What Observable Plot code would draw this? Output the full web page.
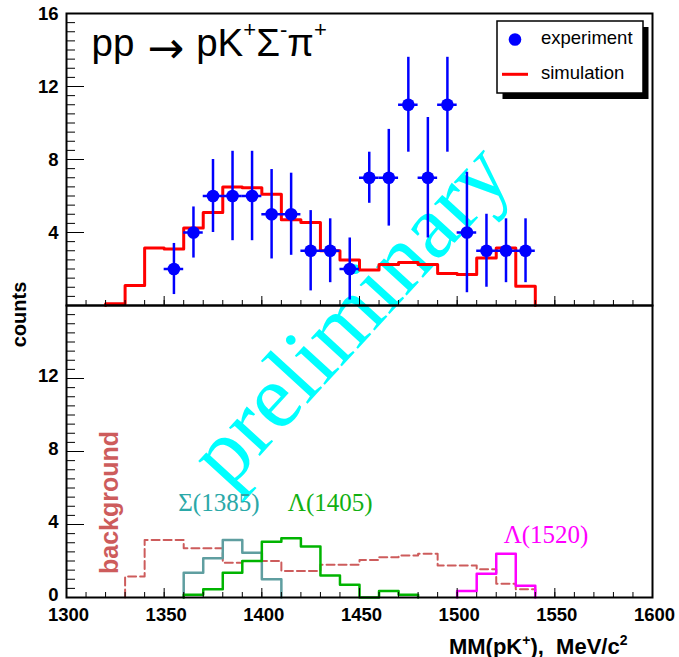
<!DOCTYPE html>
<html>
<head>
<meta charset="utf-8">
<script src="https://cdn.jsdelivr.net/npm/d3@7"></script>
<script src="https://cdn.jsdelivr.net/npm/@observablehq/plot@0.6"></script>
<style>
  html, body { margin: 0; padding: 0; background: #fff; }
  #chart { width: 679px; height: 657px; }
</style>
</head>
<body>
<div id="chart"></div>
<script>
// ---------- data ----------
const binWidth = 10; // MeV
// experiment (bin centres, counts, error bar half-lengths)
const expMass   = [1355,1365,1375,1385,1395,1405,1415,1425,1435,1445,1455,1465,1475,1485,1495,1505,1515,1525,1535];
const expCounts = [2,4,6,6,6,5,5,3,3,2,7,7,11,7,11,4,3,3,3];
const expErrors = [1.4,1.4,2.0,2.45,2.45,2.45,2.25,2.2,1.75,1.7,1.4,2.65,2.6,3.3,2.6,3.3,2.0,1.75,1.75];
// simulation histogram (bin lower edges, contents)
const simBins   = [1320,1330,1340,1350,1360,1370,1380,1390,1400,1410,1420,1430,1440,1450,1460,1470,1480,1490,1500,1510,1520,1530];
const simCounts = [0.1,1.1,3.15,3.1,4.25,5.1,6.5,6.45,6.1,4.7,4.55,3.0,2.5,1.95,2.25,2.35,2.25,1.75,1.7,2.6,3.15,1.05];
// components (lower panel)
const bgBins    = [1330,1340,1350,1360,1370,1380,1390,1400,1410,1420,1430,1440,1450,1460,1470,1480,1490,1500,1510,1520,1530];
const bgCounts  = [1.15,3.15,3.15,2.7,2.7,1.9,2.0,2.0,1.45,1.45,1.8,1.8,2.05,2.2,2.3,2.4,1.75,1.75,1.55,0.75,0.45];
const sigma1385Bins   = [1360,1370,1380,1390,1400];
const sigma1385Counts = [1.35,2.15,3.15,2.45,1.0];
const lambda1405Bins   = [1360,1370,1380,1390,1400,1410,1420,1430,1440,1450,1460,1470];
const lambda1405Counts = [0.15,0.45,1.35,2.0,3.05,3.25,2.8,1.2,0.7,0,0.35,0.15];
const lambda1520Bins   = [1500,1510,1520,1530];
const lambda1520Counts = [0.35,1.3,2.4,0.65];
// axes
const xTickLabels       = [1300,1350,1400,1450,1500,1550,1600];
const yTickLabelsTop    = [4,8,12,16];
const yTickLabelsBottom = [0,4,8,12];
const xDomain = [1300,1600];
const yDomain = [0,16];
// texts
const titleParts  = ["pp", "\u2192", "pK", "+", "\u03A3", "-", "\u03C0", "+"];
const xTitleParts = ["MM(pK", "+", "),\u00A0 MeV/c", "2"];
const yTitle = "counts";
const componentLabels = ["\u03A3(1385)", "\u039B(1405)", "\u039B(1520)", "background"];
const legendLabels = ["experiment", "simulation"];
const watermark = "preliminary";

// ---------- layout / styles ----------
const W = 679, H = 657, mL = 66, mR = 27, mT = 13, mB = 60;
const innerW = W - mL - mR;
const panelH = (H - mT - mB) / 2;
const SANS = "'Liberation Sans', Arial, Helvetica, sans-serif";
const SERIF = "'Liberation Serif', 'Times New Roman', serif";
const BLUE = "#0000ff", RED = "#ff0000";
// tspan styles for the title and x title (same order as the parts)
const titleStyle = [
  {},
  {font: "'DejaVu Sans', sans-serif", size: 44, dx: 13, dy: 7},
  {dx: 12, dy: -7},
  {size: 22, dy: -19},
  {dy: 19},
  {size: 22, dy: -19},
  {dy: 19},
  {size: 22, dy: -19}
];
const xTitleStyle = [{}, {size: 14, dy: -9}, {dy: 9}, {size: 14, dy: -9}];

function steps(bins, counts, panel) {
  const pts = [{x: bins[0], y: 0, panel}];
  bins.forEach((b, i) => pts.push({x: b, y: counts[i], panel}));
  const last = bins[bins.length - 1] + binWidth;
  pts.push({x: last, y: counts[counts.length - 1], panel}, {x: last, y: 0, panel});
  return pts;
}
const expData = expMass.map((m, i) => ({m, c: expCounts[i], e: expErrors[i], panel: "top"}));
const inTop = () => "top", inBottom = () => "bottom";
const joined = parts => parts.join("");

const yMinor = d3.range(0, 16.001, 0.5);
const yMajor = d3.range(0, 16.001, 4);
const xMinor = d3.range(1300, 1600.1, 10);
const xMajor = d3.range(1300, 1600.1, 50);

const chart = Plot.plot({
  width: W, height: H,
  marginLeft: mL, marginRight: mR, marginTop: mT, marginBottom: mB,
  style: {fontFamily: SANS, fontSize: "18px", background: "white", overflow: "visible"},
  x: {domain: xDomain, axis: null},
  y: {domain: yDomain, axis: null},
  fy: {domain: ["top", "bottom"], padding: 0, axis: null},
  marks: [
    // watermark
    Plot.text([watermark], {x: () => 1445, y: () => 0, fy: inTop, text: d => d, rotate: -47.5,
      fontSize: 91, fontFamily: SERIF, fill: "#00ffff", textAnchor: "middle", lineAnchor: "middle", dy: 9}),
    // upper panel
    Plot.line(steps(simBins, simCounts, "top"), {x: "x", y: "y", fy: "panel", curve: "step-after", stroke: RED, strokeWidth: 3}),
    Plot.ruleX(expData, {x: "m", y1: d => d.c - d.e, y2: d => d.c + d.e, fy: "panel", stroke: BLUE, strokeWidth: 2.5}),
    Plot.ruleY(expData, {y: "c", x1: d => d.m - binWidth / 2, x2: d => d.m + binWidth / 2, fy: "panel", stroke: BLUE, strokeWidth: 2.5}),
    Plot.dot(expData, {x: "m", y: "c", fy: "panel", r: 6.3, fill: BLUE}),
    // lower panel
    Plot.line(steps(bgBins, bgCounts, "bottom"), {x: "x", y: "y", fy: "panel", curve: "step-after", stroke: "#cd5c5c", strokeWidth: 2, strokeDasharray: "8,4"}),
    Plot.line(steps(sigma1385Bins, sigma1385Counts, "bottom"), {x: "x", y: "y", fy: "panel", curve: "step-after", stroke: "#5f9ea0", strokeWidth: 2.5}),
    Plot.line(steps(lambda1405Bins, lambda1405Counts, "bottom"), {x: "x", y: "y", fy: "panel", curve: "step-after", stroke: "#00b400", strokeWidth: 2.5}),
    Plot.line(steps(lambda1520Bins, lambda1520Counts, "bottom"), {x: "x", y: "y", fy: "panel", curve: "step-after", stroke: "#ff00ff", strokeWidth: 2.5}),
    Plot.text([componentLabels[0]], {x: () => 1378, y: () => 4.75, fy: inBottom, text: d => d, fontFamily: SERIF, fontSize: 25, fill: "#2aa8a8", textAnchor: "middle", lineAnchor: "bottom"}),
    Plot.text([componentLabels[1]], {x: () => 1435, y: () => 4.75, fy: inBottom, text: d => d, fontFamily: SERIF, fontSize: 25, fill: "#12b012", textAnchor: "middle", lineAnchor: "bottom"}),
    Plot.text([componentLabels[2]], {x: () => 1545.5, y: () => 3.0, fy: inBottom, text: d => d, fontFamily: SERIF, fontSize: 25, fill: "#ff00ff", textAnchor: "middle", lineAnchor: "bottom"}),
    Plot.text([componentLabels[3]], {fy: inBottom, text: d => d, frameAnchor: "bottom-left", dx: 51, dy: -95, rotate: -90,
      fontSize: 25, fontWeight: "bold", fill: "#cd5c5c", textAnchor: "middle", lineAnchor: "bottom"}),
    // axis ticks (inside, ROOT style)
    Plot.tickY(yMinor, {y: d => d, insetRight: innerW - 9, stroke: "black", strokeWidth: 1}),
    Plot.tickY(yMajor, {y: d => d, insetRight: innerW - 18, stroke: "black", strokeWidth: 1}),
    Plot.tickX(xMinor, {x: d => d, insetTop: panelH - 5, stroke: "black", strokeWidth: 1}),
    Plot.tickX(xMajor, {x: d => d, insetTop: panelH - 9, stroke: "black", strokeWidth: 1}),
    Plot.frame({stroke: "black", strokeWidth: 2}),
    // tick labels
    Plot.text(yTickLabelsTop, {y: d => d, fy: inTop, text: d => String(d), frameAnchor: "left", dx: -8, dy: 1, textAnchor: "end", lineAnchor: "middle", fontWeight: "bold", fontSize: 18.5}),
    Plot.text(yTickLabelsBottom, {y: d => d, fy: inBottom, text: d => String(d), frameAnchor: "left", dx: -8, dy: -2, textAnchor: "end", lineAnchor: "middle", fontWeight: "bold", fontSize: 18.5}),
    Plot.text(xTickLabels, {x: d => d, fy: inBottom, text: d => String(d), frameAnchor: "bottom", dx: 2, dy: 23, textAnchor: "middle", lineAnchor: "bottom", fontWeight: "bold", fontSize: 18.5}),
    // axis titles
    Plot.text([joined(xTitleParts)], {fy: inBottom, text: d => d, frameAnchor: "bottom-right", dx: -25, dy: 56, textAnchor: "end", lineAnchor: "bottom", fontWeight: "bold", fontSize: 22}),
    Plot.text([yTitle], {fy: inTop, text: d => d, frameAnchor: "bottom-left", dx: -41, dy: 9, rotate: -90, textAnchor: "middle", lineAnchor: "bottom", fontWeight: "bold", fontSize: 20}),
    // title
    Plot.text([joined(titleParts)], {fy: inTop, text: d => d, frameAnchor: "top-left", dx: 25, dy: 42, textAnchor: "start", lineAnchor: "bottom", fontSize: 38.5})
  ]
});

// rich text (superscripts / wide arrow) as tspans
function richText(svgNode, parts, styles) {
  const plain = joined(parts);
  d3.select(svgNode).selectAll("text").filter(function() { return this.textContent === plain; }).each(function() {
    const t = d3.select(this);
    t.text(null);
    parts.forEach((s, i) => {
      const st = styles[i] || {};
      const ts = t.append("tspan").text(s);
      if (st.size) ts.attr("font-size", st.size);
      if (st.font) ts.attr("font-family", st.font);
      if (st.dx) ts.attr("dx", st.dx);
      if (st.dy) ts.attr("dy", st.dy);
    });
  });
}
richText(chart, titleParts, titleStyle);
richText(chart, xTitleParts, xTitleStyle);

// legend box (ROOT style with shadow)
const svgSel = d3.select(chart);
const lg = svgSel.append("g").attr("font-family", SANS).attr("text-anchor", "start");
lg.append("rect").attr("x", 502.5).attr("y", 27).attr("width", 146).attr("height", 72).attr("fill", "black");
lg.append("rect").attr("x", 497).attr("y", 21).attr("width", 146).attr("height", 72).attr("fill", "white").attr("stroke", "black").attr("stroke-width", 1.5);
lg.append("circle").attr("cx", 515).attr("cy", 39.5).attr("r", 6.3).attr("fill", BLUE);
lg.append("line").attr("x1", 502).attr("x2", 528).attr("y1", 74.3).attr("y2", 74.3).attr("stroke", RED).attr("stroke-width", 3);
lg.append("text").attr("x", 541).attr("y", 43.5).attr("font-size", 18.5).attr("fill", "black").text(legendLabels[0]);
lg.append("text").attr("x", 541).attr("y", 78.5).attr("font-size", 18.5).attr("fill", "black").text(legendLabels[1]);

document.getElementById("chart").appendChild(chart);
</script>
</body>
</html>
